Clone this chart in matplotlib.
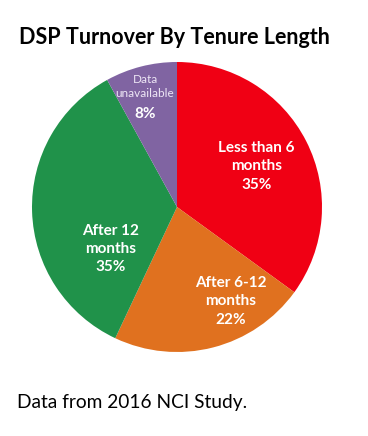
import matplotlib
matplotlib.use("Agg")
import matplotlib.pyplot as plt

categories = ["Less than 6\nmonths", "After 6-12\nmonths", "After 12\nmonths", "Data\nunavailable"]
shares = [35, 22, 35, 8]
colors = ["#F00014", "#E0711F", "#20924A", "#8064A2"]

# label centres relative to the pie centre (in radius units)
label_pos = [(0.55, 0.28), (0.37, -0.65), (-0.46, -0.29), (-0.22, 0.78)]

plt.rcParams["font.family"] = ["Lato", "DejaVu Sans"]

fig = plt.figure(figsize=(3.68, 4.36), dpi=100)
fig.patch.set_facecolor("white")

ax = fig.add_axes([32 / 368, 1 - 352 / 436, 290 / 368, 290 / 436])
ax.pie(shares, colors=colors, startangle=90, counterclock=False, radius=1.0,
       wedgeprops=dict(linewidth=0))
ax.set_xlim(-1, 1)
ax.set_ylim(-1, 1)
ax.set_aspect("equal")
ax.axis("off")

for name, val, (x, y) in zip(categories, shares, label_pos):
    if name.startswith("Data"):
        ax.text(x, y + 0.05, name, ha="center", va="center", color="#EDE6F5",
                fontsize=8.5, linespacing=1.35)
        ax.text(x, y - 0.14, f"{val}%", ha="center", va="center", color="white",
                fontsize=11, fontweight="bold")
    else:
        ax.text(x, y, f"{name}\n{val}%", ha="center", va="center", color="white",
                fontsize=11, fontweight="bold", linespacing=1.4)

fig.text(174 / 368, 1 - 38 / 436, "DSP Turnover By Tenure Length", ha="center",
         va="center", fontsize=15.5, fontweight="bold", color="black")
fig.text(17 / 368, 1 - 402 / 436, "Data from 2016 NCI Study.", ha="left",
         va="center", fontsize=13.8, color="black")

fig.savefig("out.png", dpi=100, facecolor="white")
